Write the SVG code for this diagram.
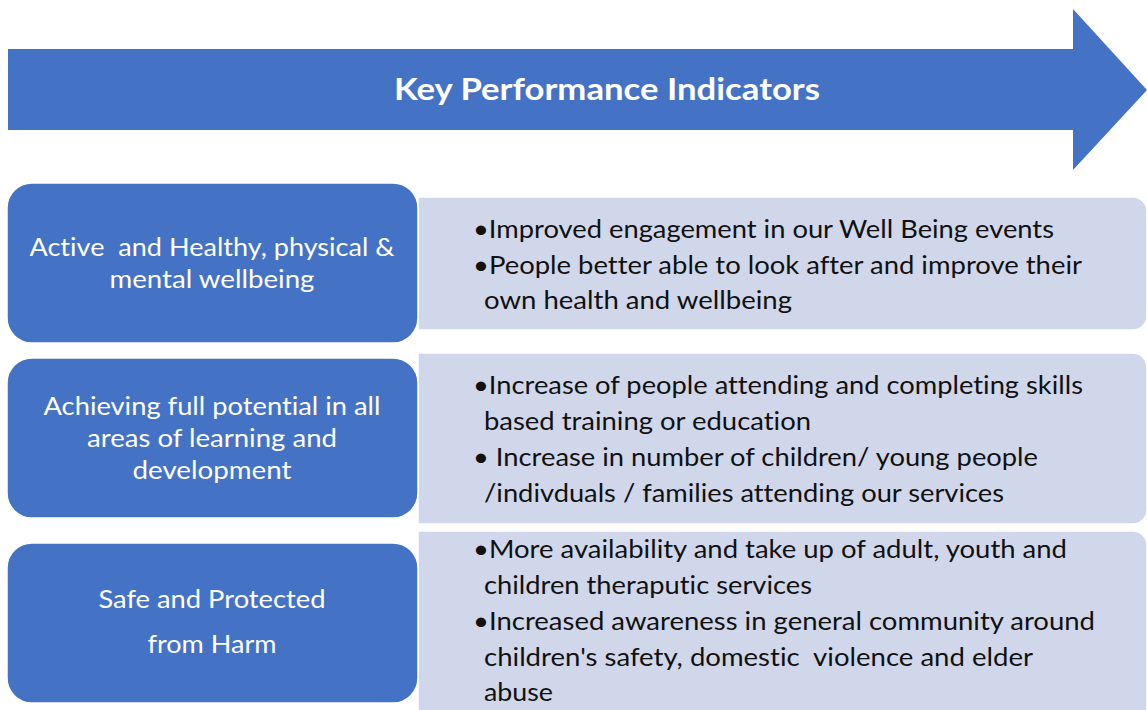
<svg xmlns="http://www.w3.org/2000/svg" width="1147" height="710" viewBox="0 0 1147 710">
  <style>
    text { white-space: pre; font-variant-ligatures: none; font-feature-settings: "liga" 0, "clig" 0; }
    .banner { fill: #4472C4; }
    .title { font-family: Lato, "Open Sans", "Liberation Sans", sans-serif; font-weight: bold; font-size: 31px; fill: #FFFFFF; }
    .theme { fill: #4472C4; stroke: #FFFFFF; stroke-width: 1.5; }
    .kpi { fill: #D0D7EA; stroke: #FFFFFF; stroke-width: 1.5; }
    .label { font-family: Lato, "Open Sans", "Liberation Sans", sans-serif; font-size: 25px; fill: #FFFFFF; }
    .item { font-family: Lato, "Open Sans", "Liberation Sans", sans-serif; font-size: 25px; fill: #111111; }
  </style>

  <!-- Header block arrow -->
  <g id="header">
    <polygon class="banner" points="8,49 1073,49 1073,9 1147,90 1073,170 1073,130 8,130"/>
    <text class="title" x="607" y="100" text-anchor="middle" textLength="426" lengthAdjust="spacingAndGlyphs">Key Performance Indicators</text>
  </g>

  <!-- Row 1 -->
  <g id="kpi-1">
    <path class="kpi" d="M418,197 H1133 A14,14 0 0 1 1147,211 V316 A14,14 0 0 1 1133,330 H418 Z"/>
    <text class="item" x="473" y="238" textLength="581" lengthAdjust="spacingAndGlyphs">•Improved engagement in our Well Being events</text>
    <text class="item" x="473" y="274" textLength="609" lengthAdjust="spacingAndGlyphs">•People better able to look after and improve their</text>
    <text class="item" x="484" y="309" textLength="308" lengthAdjust="spacingAndGlyphs">own health and wellbeing</text>
  </g>
  <g id="theme-1">
    <rect class="theme" x="7" y="183" width="411" height="160" rx="25" ry="25"/>
    <text class="label" x="212" y="256" text-anchor="middle" textLength="365" lengthAdjust="spacingAndGlyphs">Active  and Healthy, physical &amp;</text>
    <text class="label" x="212" y="288" text-anchor="middle" textLength="205" lengthAdjust="spacingAndGlyphs">mental wellbeing</text>
  </g>

  <!-- Row 2 -->
  <g id="kpi-2">
    <path class="kpi" d="M418,353 H1133 A14,14 0 0 1 1147,367 V510 A14,14 0 0 1 1133,524 H418 Z"/>
    <text class="item" x="473" y="394" textLength="610" lengthAdjust="spacingAndGlyphs">•Increase of people attending and completing skills</text>
    <text class="item" x="484" y="430" textLength="327" lengthAdjust="spacingAndGlyphs">based training or education</text>
    <text class="item" x="473" y="466" textLength="565" lengthAdjust="spacingAndGlyphs">• Increase in number of children/ young people</text>
    <text class="item" x="484" y="502" textLength="520" lengthAdjust="spacingAndGlyphs">/indivduals / families attending our services</text>
  </g>
  <g id="theme-2">
    <rect class="theme" x="7" y="358" width="411" height="160" rx="25" ry="25"/>
    <text class="label" x="212" y="415" text-anchor="middle" textLength="337" lengthAdjust="spacingAndGlyphs">Achieving full potential in all</text>
    <text class="label" x="212" y="447" text-anchor="middle" textLength="250" lengthAdjust="spacingAndGlyphs">areas of learning and</text>
    <text class="label" x="212" y="479" text-anchor="middle" textLength="159" lengthAdjust="spacingAndGlyphs">development</text>
  </g>

  <!-- Row 3 -->
  <g id="kpi-3">
    <path class="kpi" d="M418,531 H1133 A14,14 0 0 1 1147,545 V720 H418 Z"/>
    <text class="item" x="473" y="558" textLength="594" lengthAdjust="spacingAndGlyphs">•More availability and take up of adult, youth and</text>
    <text class="item" x="484" y="594" textLength="328" lengthAdjust="spacingAndGlyphs">children theraputic services</text>
    <text class="item" x="473" y="630" textLength="622" lengthAdjust="spacingAndGlyphs">•Increased awareness in general community around</text>
    <text class="item" x="484" y="666" textLength="549" lengthAdjust="spacingAndGlyphs">children's safety, domestic  violence and elder</text>
    <text class="item" x="484" y="701" textLength="69" lengthAdjust="spacingAndGlyphs">abuse</text>
  </g>
  <g id="theme-3">
    <rect class="theme" x="7" y="543" width="411" height="160" rx="25" ry="25"/>
    <text class="label" x="212" y="608" text-anchor="middle" textLength="227" lengthAdjust="spacingAndGlyphs">Safe and Protected</text>
    <text class="label" x="212" y="653" text-anchor="middle" textLength="129" lengthAdjust="spacingAndGlyphs">from Harm</text>
  </g>

  <!-- No connectors in this layout -->
  <g id="connectors"/>
</svg>
